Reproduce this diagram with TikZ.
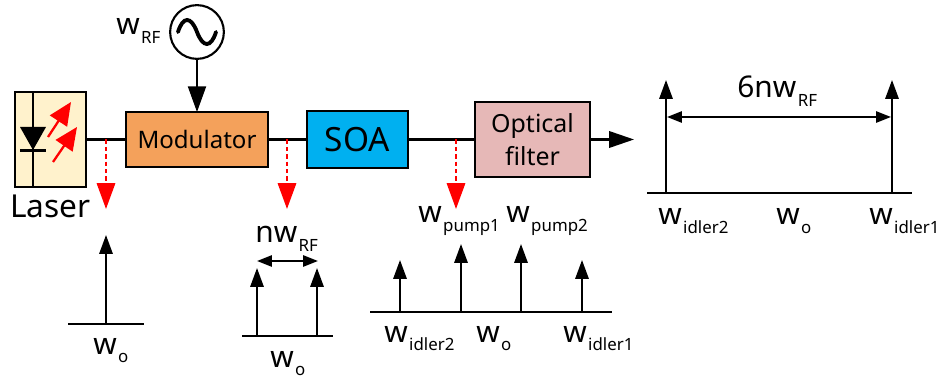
\documentclass[tikz,border=0pt]{standalone}
\usepackage{fontspec}
\setmainfont{Noto Sans}
\usetikzlibrary{arrows.meta}
\definecolor{lasercream}{RGB}{255, 242, 204}
\definecolor{modorange}{RGB}{244, 161, 91}
\definecolor{soablue}{RGB}{0, 176, 240}
\definecolor{filterpink}{RGB}{230, 184, 183}
% w with a subscript, set at 17pt and 9.6pt
\newcommand{\wsub}[1]{w\hspace{0.8pt}\raisebox{-4.6pt}{\fontsize{9.6}{12}\selectfont #1}}
\begin{document}
\begin{tikzpicture}[
      x=0.02cm, y=-0.02cm,
      box/.style={draw=black, line width=1.2pt, outer sep=0pt, inner sep=0pt, align=center,
                  font=\fontsize{13.7}{17}\selectfont},
      lbl/.style={anchor=base west, inner sep=0pt, font=\fontsize{17}{20}\selectfont},
      wire/.style={line width=1.15pt},
      bigarrow/.style={-{Triangle[length=14.7pt, width=10.2pt]}, line width=1.4pt},
      taparrow/.style={-{Triangle[length=14.7pt, width=10.4pt]}, red, line width=1.3pt, dash pattern=on 2.5pt off 1.7pt},
      laserarrow/.style={-{Triangle[length=13pt, width=11.5pt]}, red, line width=1.3pt},
      peak/.style={-{Triangle[length=10.8pt, width=7.6pt]}, line width=1.2pt},
      span/.style={{Triangle[length=8.5pt, width=6.4pt]}-{Triangle[length=8.5pt, width=6.4pt]}, line width=1.1pt}
    ]
      \useasboundingbox (0,0) rectangle (939,381);

      % Laser
      \node[box, fill=lasercream, minimum width=40.2pt, minimum height=53.9pt] (laser) at (50.5,139.5) {};
      \coordinate (railtop) at (33,92);
      \coordinate (railbot) at (33,187);
      \draw[wire] (railtop) -- (railbot);
      \fill (20,127) -- (46,127) -- (33,150) -- cycle;
      \coordinate (barl) at (20,150.5);
      \coordinate (barr) at (46,150.5);
      \draw[line width=1.4pt] (barl) -- (barr);
      \coordinate (ray1a) at (48,137);
      \coordinate (ray1b) at (71,102);
      \coordinate (ray2a) at (53,162);
      \coordinate (ray2b) at (77,127);
      \draw[laserarrow] (ray1a) -- (ray1b);
      \draw[laserarrow] (ray2a) -- (ray2b);
      \node[lbl, font=\fontsize{18}{20}\selectfont] (lasertxt) at (10,218) {Laser};

      % Chain
      \node[box, fill=modorange, minimum width=81pt, minimum height=31.2pt] (mod) at (197,139.5) {Modulator};
      \node[box, fill=soablue, minimum width=57.2pt, minimum height=32.3pt, font=\fontsize{19}{20}\selectfont] (soa) at (357.5,139.5) {SOA};
      \node[box, fill=filterpink, minimum width=65.2pt, minimum height=42.5pt, font=\fontsize{14.2}{18.7}\selectfont] (filt) at (532.5,139.5) {Optical\\filter};
      \coordinate (out) at (634,139.5);
      \draw[wire] (laser) -- (mod);
      \draw[wire] (mod) -- (soa);
      \draw[wire] (soa) -- (filt);
      \draw[-{Triangle[length=14.2pt, width=9.4pt]}, wire] (filt) -- (out);

      % Source
      \node[circle, draw=black, line width=1.2pt, fill=white, minimum size=30.6pt, outer sep=0pt, inner sep=0pt] (src) at (197,32) {};
      \draw[line width=2.2pt, line cap=round] (178,32) .. controls (183,16) and (191,16) .. (197,32) .. controls (203,48) and (211,48) .. (216,32);
      \draw[bigarrow] (src) -- (mod);
      \node[lbl] (wrf) at (116,35) {\wsub{RF}};

      % Taps
      \coordinate (tap1) at (106,139.5);
      \coordinate (tap1e) at (106,209);
      \coordinate (tap2) at (287,139.5);
      \coordinate (tap2e) at (287,209);
      \coordinate (tap3) at (456,139.5);
      \coordinate (tap3e) at (456,209);
      \draw[taparrow] (tap1) -- (tap1e);
      \draw[taparrow] (tap2) -- (tap2e);
      \draw[taparrow] (tap3) -- (tap3e);

      % Spectrum after laser
      \coordinate (axa1) at (68,324);
      \coordinate (axa2) at (144,324);
      \draw[wire] (axa1) -- (axa2);
      \coordinate (pa) at (106,324);
      \coordinate (pat) at (106,235);
      \draw[peak] (pa) -- (pat);
      \node[lbl] (wa) at (93,354) {\wsub{o}};

      % Spectrum after modulator
      \coordinate (axb1) at (242,336);
      \coordinate (axb2) at (333,336);
      \draw[wire] (axb1) -- (axb2);
      \foreach \n/\x in {1/257, 2/317} {
        \coordinate (pb\n) at (\x,336);
        \coordinate (pbt\n) at (\x,268);
        \draw[peak] (pb\n) -- (pbt\n);
      }
      \coordinate (spb1) at (257,261);
      \coordinate (spb2) at (318,261);
      \draw[span] (spb1) -- (spb2);
      \node[lbl] (nwrf) at (255,243) {n\wsub{RF}};
      \node[lbl] (wb) at (270,367) {\wsub{o}};

      % Spectrum after SOA
      \coordinate (axc1) at (370,312);
      \coordinate (axc2) at (612,312);
      \draw[wire] (axc1) -- (axc2);
      \foreach \n/\x/\t in {1/400/260, 2/461/244, 3/521/244, 4/582/260} {
        \coordinate (pc\n) at (\x,312);
        \coordinate (pct\n) at (\x,\t);
        \draw[peak] (pc\n) -- (pct\n);
      }
      \node[lbl] (wp1) at (418,223) {\wsub{pump1}};
      \node[lbl] (wp2) at (506,223) {\wsub{pump2}};
      \node[lbl] (wc2) at (384,342) {\wsub{idler2}};
      \node[lbl] (wc) at (476,342) {\wsub{o}};
      \node[lbl] (wc1) at (563,342) {\wsub{idler1}};

      % Spectrum after filter
      \coordinate (axd1) at (647,193);
      \coordinate (axd2) at (912,193);
      \draw[wire] (axd1) -- (axd2);
      \foreach \n/\x in {1/666, 2/892} {
        \coordinate (pd\n) at (\x,193);
        \coordinate (pdt\n) at (\x,80);
        \draw[peak] (pd\n) -- (pdt\n);
      }
      \coordinate (spd1) at (667,117);
      \coordinate (spd2) at (891,117);
      \draw[span] (spd1) -- (spd2);
      \node[lbl] (sixn) at (737,98) {6n\wsub{RF}};
      \node[lbl] (wd2) at (658,225) {\wsub{idler2}};
      \node[lbl] (wd) at (776,225) {\wsub{o}};
      \node[lbl] (wd1) at (869,225) {\wsub{idler1}};
    \end{tikzpicture}
\end{document}
